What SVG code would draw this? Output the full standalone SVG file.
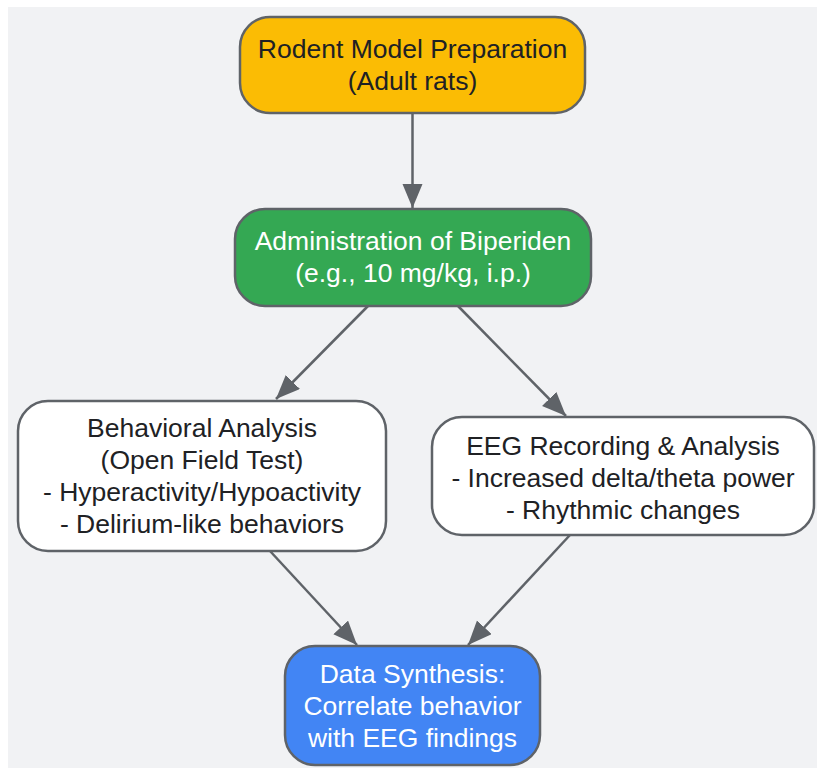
<svg xmlns="http://www.w3.org/2000/svg" width="817" height="768" viewBox="0 0 817 768">
<defs>
<style>
.node rect{stroke:#5f6368;stroke-width:2.5}
text{font-family:"Liberation Sans",Arial,sans-serif;font-size:26.5px;text-anchor:middle}
.dark{fill:#202124}
.light{fill:#ffffff}
.edge{stroke:#5f6368;stroke-width:2.5;fill:none;marker-end:url(#arrow)}
</style>
<marker id="arrow" markerUnits="userSpaceOnUse" markerWidth="26" markerHeight="22" refX="24" refY="10" orient="auto">
<path d="M0,0 L24,10 L0,20 z" fill="#5f6368"/>
</marker>
</defs>
<rect x="0" y="0" width="817" height="768" fill="#ffffff"/>
<rect x="8" y="7" width="809" height="761" fill="#f1f2f4"/>
<g id="connectors">
<path class="edge" d="M412.5,113 L412.5,208"/>
<path class="edge" d="M368,306 L276,399"/>
<path class="edge" d="M458,306 L566,416"/>
<path class="edge" d="M270,551 L357,645"/>
<path class="edge" d="M570,535 L468,645"/>
</g>
<g id="n1" class="node">
<rect x="240" y="17" width="345" height="96" rx="30" fill="#fbbc04"/>
<text class="dark" x="412.5" y="58">Rodent Model Preparation</text>
<text class="dark" x="412.5" y="90">(Adult rats)</text>
</g>
<g id="n2" class="node">
<rect x="235" y="209" width="356" height="97" rx="30" fill="#34a853"/>
<text class="light" x="413" y="250">Administration of Biperiden</text>
<text class="light" x="413" y="282">(e.g., 10 mg/kg, i.p.)</text>
</g>
<g id="n3" class="node">
<rect x="18" y="401" width="368" height="150" rx="30" fill="#ffffff"/>
<text class="dark" x="202" y="437">Behavioral Analysis</text>
<text class="dark" x="202" y="469">(Open Field Test)</text>
<text class="dark" x="202" y="501">- Hyperactivity/Hypoactivity</text>
<text class="dark" x="202" y="533">- Delirium-like behaviors</text>
</g>
<g id="n4" class="node">
<rect x="432" y="417" width="382" height="118" rx="30" fill="#ffffff"/>
<text class="dark" x="623" y="455">EEG Recording &amp; Analysis</text>
<text class="dark" x="623" y="487">- Increased delta/theta power</text>
<text class="dark" x="623" y="519">- Rhythmic changes</text>
</g>
<g id="n5" class="node">
<rect x="285" y="646" width="255" height="119" rx="30" fill="#4285f4"/>
<text class="light" x="412.5" y="683">Data Synthesis:</text>
<text class="light" x="412.5" y="715">Correlate behavior</text>
<text class="light" x="412.5" y="747">with EEG findings</text>
</g>
</svg>
